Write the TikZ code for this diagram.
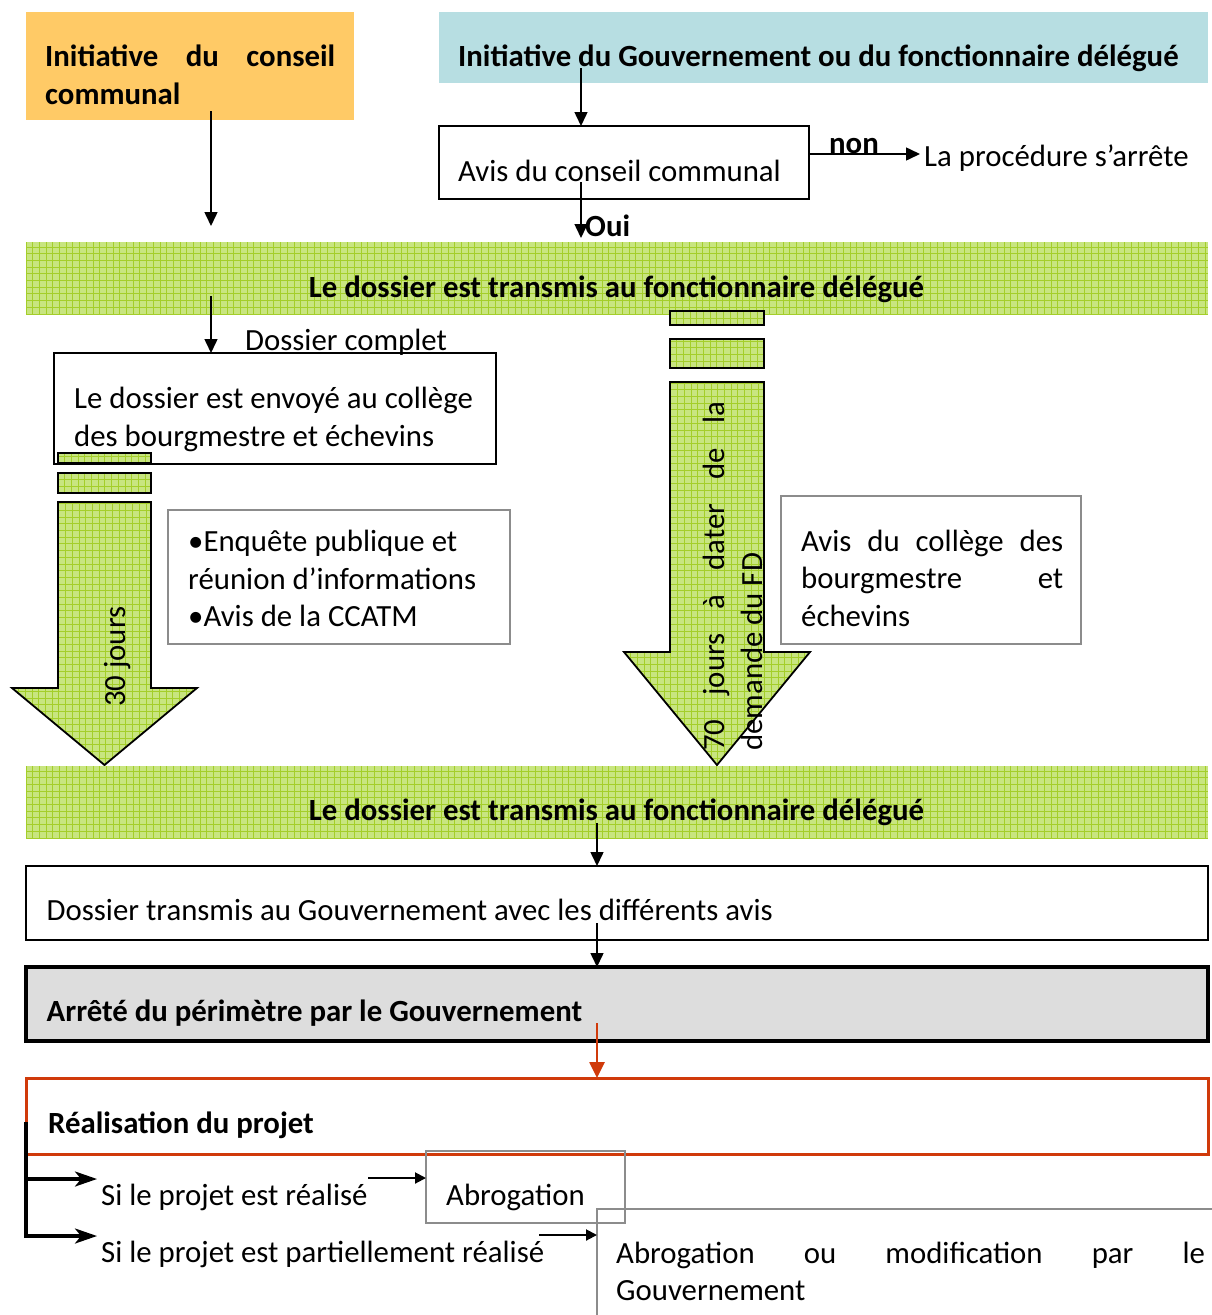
\documentclass[tikz,border=0pt]{standalone}
\usepackage{fontspec}
\setmainfont{Carlito}
\usetikzlibrary{arrows.meta,fit}

\definecolor{orangefill}{RGB}{255,202,102}
\definecolor{bluefill}{RGB}{183,222,226}
\definecolor{greenfill}{RGB}{200,229,128}
\definecolor{greenline}{RGB}{164,206,42}
\definecolor{greyfill}{RGB}{221,221,221}
\definecolor{redline}{RGB}{208,58,10}
\definecolor{greyline}{RGB}{140,140,140}

\begin{document}
\begin{tikzpicture}[x=1pt,y=-1pt,
  txt/.style={inner sep=0pt, anchor=base west, font=\fontsize{30.8}{37.5}\selectfont},
  btxt/.style={txt, font=\fontsize{30.8}{37.5}\selectfont\bfseries},
  plainbox/.style={inner sep=0pt, outer sep=0pt},
  blackbox/.style={plainbox, draw=black, line width=1.6pt},
  greybox/.style={plainbox, draw=greyline, line width=1.6pt},
  gridtex/.style={path picture={
    \foreach \k in {0,...,180}{\draw[greenline, line width=1pt]
      ([xshift=\k*6.7pt]path picture bounding box.south west) --
      ([xshift=\k*6.7pt]path picture bounding box.north west);}
    \foreach \k in {0,...,70}{\draw[greenline, line width=1pt]
      ([yshift=\k*6.7pt]path picture bounding box.south west) --
      ([yshift=\k*6.7pt]path picture bounding box.south east);}
  }},
  greenbar/.style={plainbox, fill=greenfill, gridtex},
  blockarrow/.style={fill=greenfill, gridtex, draw=black, line width=1.8pt, line join=miter},
  arr/.style={line width=1.5pt, -{Triangle[length=14pt,width=13pt]}},
  smallarr/.style={line width=2pt, -{Triangle[length=11pt,width=11pt]}},
  heavyarr/.style={line width=3.2pt, -{Stealth[length=22pt,width=15pt,inset=6pt]}},
  redarr/.style={redline, line width=2.6pt, -{Triangle[length=16pt,width=15pt]}},
]
\useasboundingbox (0,0) rectangle (1212,1315);
\clip (0,0) rectangle (1212,1315);
\fill[white] (0,0) rectangle (1212,1315);

% --- top: the two initiatives ---
\node[plainbox, fill=orangefill, fit={(26,12) (354,120)}] (orange) {};
% multi-line text nodes are anchored on the baseline of their last line
\node[btxt, align=left] (orange-t) at (45,104)
  {\makebox[290pt][s]{Initiative du conseil}\\communal};
\node[plainbox, fill=bluefill, fit={(439,12) (1208,83)}] (blue) {};
\node[btxt] (blue-t) at (458,66.5)
  {Initiative du Gouvernement ou du fonctionnaire délégué};

\node[blackbox, fit={(439,126) (809,199)}] (avis) {};
\node[txt] (avis-t) at (458,181.7) {Avis du conseil communal};
\node[btxt] (non) at (829,153) {non};
\node[txt] (stop) at (924,166.5) {La procédure s’arrête};
\node[btxt] (oui) at (585,236.5) {Oui};

% --- first transmission bar ---
\node[greenbar, fit={(26,242) (1208,314)}] (bar1) {};
\node[btxt, anchor=base] (bar1-t) at (616.5,297)
  {Le dossier est transmis au fonctionnaire délégué};

% --- left branch ---
\node[txt] (complet) at (245,350) {Dossier complet};
\node[blackbox, fit={(54,353) (496,464)}] (envoi) {};
\node[txt, align=left] (envoi-t) at (74,446)
  {Le dossier est envoyé au collège\\des bourgmestre et échevins};

\path[blockarrow] (58,453) rectangle (151,463);
\path[blockarrow] (58,473) rectangle (151,493);
\path[blockarrow] (58,502) -- (151,502) -- (151,688) -- (197,688)
  -- (104.5,765) -- (12,688) -- (58,688) -- cycle;
\node[txt, rotate=90] (trente) at (125,707) {30 jours};

\node[greybox, fit={(168,510) (510,644)}] (enquete) {};
\node[txt, align=left] (enquete-t) at (188,626.5)
  {•Enquête publique et\\réunion d’informations\\•Avis de la CCATM};

% --- right branch ---
\path[blockarrow] (670,311) rectangle (764,325);
\path[blockarrow] (670,339) rectangle (764,368);
\path[blockarrow] (670,382) -- (764,382) -- (764,652) -- (810,652)
  -- (717,765) -- (624,652) -- (670,652) -- cycle;
\node[txt, rotate=90, align=left] (septante) at (762,751)
  {\makebox[349pt][s]{70 jours à dater de la}\\demande du FD};

\node[greybox, fit={(781,496) (1081,644)}] (college) {};
\node[txt, align=left] (college-t) at (801,626)
  {\makebox[262pt][s]{Avis du collège des}\\\makebox[262pt][s]{bourgmestre et}\\échevins};

% --- second transmission bar and the end of the procedure ---
\node[greenbar, fit={(26,766) (1208,838)}] (bar2) {};
\node[btxt, anchor=base] (bar2-t) at (616.5,820)
  {Le dossier est transmis au fonctionnaire délégué};

\node[plainbox, draw=black, line width=2.2pt, fit={(26,866) (1208,940)}] (gouv) {};
\node[txt] (gouv-t) at (46.5,920)
  {Dossier transmis au Gouvernement avec les différents avis};

\node[plainbox, draw=black, fill=greyfill, line width=3.5pt, fit={(26,967) (1208,1041)}] (arrete) {};
\node[btxt] (arrete-t) at (46.5,1021) {Arrêté du périmètre par le Gouvernement};

\node[plainbox, draw=redline, line width=3pt, fit={(26,1078) (1208,1154)}] (real) {};
\node[btxt] (real-t) at (48,1133) {Réalisation du projet};

\node[txt] (si1) at (101,1205) {Si le projet est réalisé};
\node[txt] (si2) at (101,1262) {Si le projet est partiellement réalisé};

\node[greybox, fit={(426,1151) (625,1223)}] (abro) {};
\node[txt] (abro-t) at (446,1205) {Abrogation};
\node[greybox, fit={(597,1209) (1240,1340)}] (modif) {};
\node[txt, align=left] (modif-t) at (616,1300.5)
  {\makebox[589pt][s]{Abrogation ou modification par le}\\Gouvernement};

% --- connectors ---
\coordinate (orange-out) at (211,111);
\coordinate (orange-end) at (211,226);
\draw[arr] (orange-out) -- (orange-end);

\coordinate (blue-out) at (581,68);
\draw[arr] (blue-out) -- (blue-out |- avis.north);

\coordinate (non-out) at (809,154);
\draw[arr] (non-out) -- ([xshift=-4pt]stop.west |- non-out);

\coordinate (oui-out) at (581,182);
\draw[arr, shorten >=4pt] (oui-out) -- (oui-out |- bar1.north);

\coordinate (bar1-out) at (211,296);
\draw[arr] (bar1-out) -- (bar1-out |- envoi.north);

\coordinate (bar2-out) at (597,823);
\draw[arr] (bar2-out) -- (bar2-out |- gouv.north);

\coordinate (gouv-out) at (597,923);
\draw[arr] (gouv-out) -- (gouv-out |- arrete.north);

\coordinate (arrete-out) at (597,1023);
\draw[redarr] (arrete-out) -- (arrete-out |- real.north);

\coordinate (split) at (26,1122);
\coordinate (si1-tip) at (97,1179);
\coordinate (si2-tip) at (97,1236);
\draw[heavyarr] (split) |- (si1-tip);
\draw[heavyarr] (split) |- (si2-tip);

\coordinate (si1-out) at (368,1178);
\draw[smallarr] (si1-out) -- (abro.west |- si1-out);
\coordinate (si2-out) at (539,1235);
\draw[smallarr] (si2-out) -- (modif.west |- si2-out);
\end{tikzpicture}
\end{document}
